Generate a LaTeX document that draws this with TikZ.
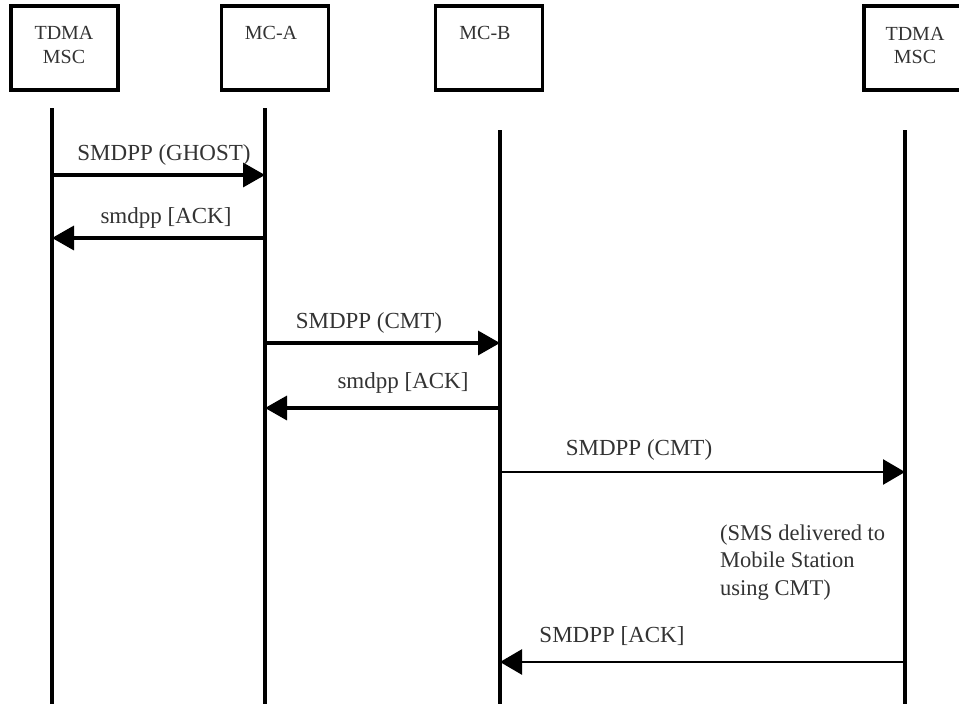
\documentclass[tikz,border=0pt]{standalone}
\usepackage{fontspec}
\setmainfont{Liberation Serif}
\usetikzlibrary{arrows.meta}

\tikzset{
  entity/.style={draw=black, line width=3.4pt, minimum width=107pt, minimum height=84pt, inner sep=0pt},
  entitytext/.style={anchor=base, inner sep=0pt, text=black!80, font=\fontsize{20}{24}\selectfont},
  lifeline/.style={line width=4pt},
  msg/.style={line width=3.4pt, -{Triangle[length=22pt,width=24pt]}},
  msgthin/.style={line width=2.6pt, -{Triangle[length=22pt,width=25pt]}},
  msglabel/.style={anchor=base, inner sep=0pt, text=black!80, font=\fontsize{23}{27}\selectfont},
  notetext/.style={anchor=base west, inner sep=0pt, text=black!80, font=\fontsize{22.5}{27}\selectfont},
}

\begin{document}
\begin{tikzpicture}[x=1pt, y=-1pt]
  \useasboundingbox[fill=white] (0,0) rectangle (959,704);

  % participants
  \node[entity] (tdmaL) at (64.5,48) {};
  \node[entity] (mca)   at (275,48)  {};
  \node[entity] (mcb)   at (489,48)  {};
  \node[entity] (tdmaR) at (917.5,48) {};

  \node[entitytext] (tdmaLa) at (64,39)  {TDMA};
  \node[entitytext] (tdmaLb) at (64,63)  {MSC};
  \node[entitytext] (mcaT)   at (271,39) {MC-A};
  \node[entitytext] (mcbT)   at (485,39) {MC-B};
  \node[entitytext] (tdmaRa) at (915,40) {TDMA};
  \node[entitytext] (tdmaRb) at (915,63) {MSC};

  % lifelines
  \coordinate (l1top) at (52,108);  \coordinate (l1bot) at (52,704);
  \coordinate (l2top) at (265,108); \coordinate (l2bot) at (265,704);
  \coordinate (l3top) at (500,130); \coordinate (l3bot) at (500,704);
  \coordinate (l4top) at (905,130); \coordinate (l4bot) at (905,704);
  \draw[lifeline] (l1top) -- (l1bot);
  \draw[lifeline] (l2top) -- (l2bot);
  \draw[lifeline] (l3top) -- (l3bot);
  \draw[lifeline] (l4top) -- (l4bot);

  % message end points on the lifelines
  \coordinate (m1a) at (52,175);  \coordinate (m1b) at (265,175);
  \coordinate (m2a) at (265,238); \coordinate (m2b) at (52,238);
  \coordinate (m3a) at (265,343); \coordinate (m3b) at (500,343);
  \coordinate (m4a) at (500,408); \coordinate (m4b) at (265,408);
  \coordinate (m5a) at (500,472); \coordinate (m5b) at (905,472);
  \coordinate (m6a) at (905,662); \coordinate (m6b) at (500,662);

  % messages
  \draw[msg] (m1a) -- (m1b);
  \draw[msg] (m2a) -- (m2b);
  \draw[msg] (m3a) -- (m3b);
  \draw[msg] (m4a) -- (m4b);
  \draw[msgthin] (m5a) -- (m5b);
  \draw[msgthin] (m6a) -- (m6b);

  % message labels
  \node[msglabel] (lab1) at (164,160) {SMDPP (GHOST)};
  \node[msglabel] (lab2) at (166,223) {smdpp [ACK]};
  \node[msglabel] (lab3) at (369,328) {SMDPP (CMT)};
  \node[msglabel] (lab4) at (403,388) {smdpp [ACK]};
  \node[msglabel] (lab5) at (639,455) {SMDPP (CMT)};
  \node[msglabel] (lab6) at (612,642) {SMDPP [ACK]};

  % delivery note
  \node[notetext] (note1) at (720,540) {(SMS delivered to};
  \node[notetext] (note2) at (720,567.5) {Mobile Station};
  \node[notetext] (note3) at (720,595) {using CMT)};
\end{tikzpicture}
\end{document}
